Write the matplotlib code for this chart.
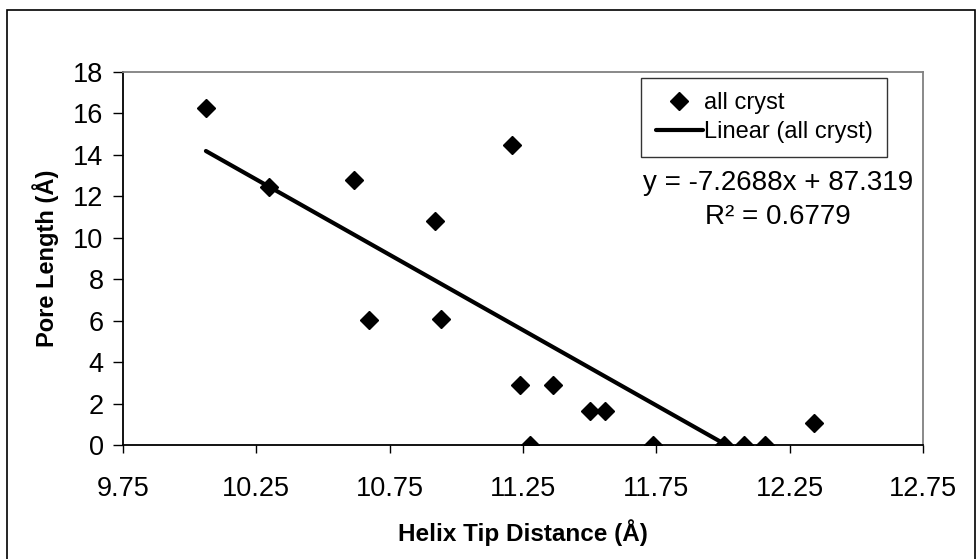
import matplotlib
matplotlib.use('Agg')
import matplotlib.pyplot as plt
import numpy as np
from matplotlib.patches import Rectangle

plt.rcParams['font.family'] = ['Liberation Sans', 'DejaVu Sans']

# helix tip distance (A) vs pore length (A), all crystal structures
tip_distance = [10.061, 10.297, 10.617, 10.919, 11.208, 10.671, 10.943, 11.240,
                11.361, 11.501, 11.557, 11.275, 11.736, 12.004, 12.080, 12.157, 12.341]
pore_length = [16.25, 12.47, 12.80, 10.81, 14.46, 6.03, 6.07, 2.91,
               2.90, 1.63, 1.63, 0.0, 0.0, 0.0, 0.0, 0.0, 1.08]

slope = -7.2688
intercept = 87.319
r_squared = 0.6779

x_ticks = [9.75, 10.25, 10.75, 11.25, 11.75, 12.25, 12.75]
y_ticks = [0, 2, 4, 6, 8, 10, 12, 14, 16, 18]

fig = plt.figure(figsize=(9.8, 5.59), dpi=100)
ax = fig.add_axes([0.1255, 0.2039, 0.8163, 0.6673])

ax.plot(tip_distance, pore_length, linestyle='none', marker='D', ms=8.8,
        color='black', label='all cryst', zorder=3)

fit_x = np.array([min(tip_distance), max(tip_distance)])
ax.plot(fit_x, slope * fit_x + intercept, color='black', lw=3,
        solid_capstyle='round', label='Linear (all cryst)', zorder=2)

ax.set_xlim(9.75, 12.75)
ax.set_ylim(0, 18)
ax.set_xticks(x_ticks)
ax.set_xticklabels([f'{t:.2f}' for t in x_ticks])
ax.set_yticks(y_ticks)
ax.tick_params(axis='both', direction='out', labelsize=19.5, width=1, color='black')
ax.tick_params(axis='x', length=6, pad=16)
ax.tick_params(axis='y', length=7, pad=7)

for side in ['left', 'bottom']:
    ax.spines[side].set_color('black')
    ax.spines[side].set_linewidth(1.3)
for side in ['top', 'right']:
    ax.spines[side].set_color('#808080')
    ax.spines[side].set_linewidth(1.3)

ax.set_xlabel('Helix Tip Distance (Å)', fontsize=17.5, fontweight='bold', labelpad=13)
ax.set_ylabel('Pore Length (Å)', fontsize=17, fontweight='bold', labelpad=10)

leg = ax.legend(loc='upper right', bbox_to_anchor=(0.955, 0.984), borderaxespad=0,
                fontsize=17, frameon=True, fancybox=False, edgecolor='black',
                handlelength=2.0, handletextpad=0.05, borderpad=0.6, labelspacing=0.3)
leg.get_frame().set_linewidth(1)

ax.text(0.819, 0.702, f'y = {slope}x + {intercept}', transform=ax.transAxes,
        ha='center', va='center', fontsize=20)
ax.text(0.819, 0.611, f'R² = {r_squared}', transform=ax.transAxes,
        ha='center', va='center', fontsize=20)

# outer chart border
fig.patches.append(Rectangle((7 / 980, -0.1), 968 / 980, 1.1 - 10 / 559,
                             transform=fig.transFigure, fill=False,
                             edgecolor='black', lw=1.2))

fig.savefig('out.png', dpi=100)
